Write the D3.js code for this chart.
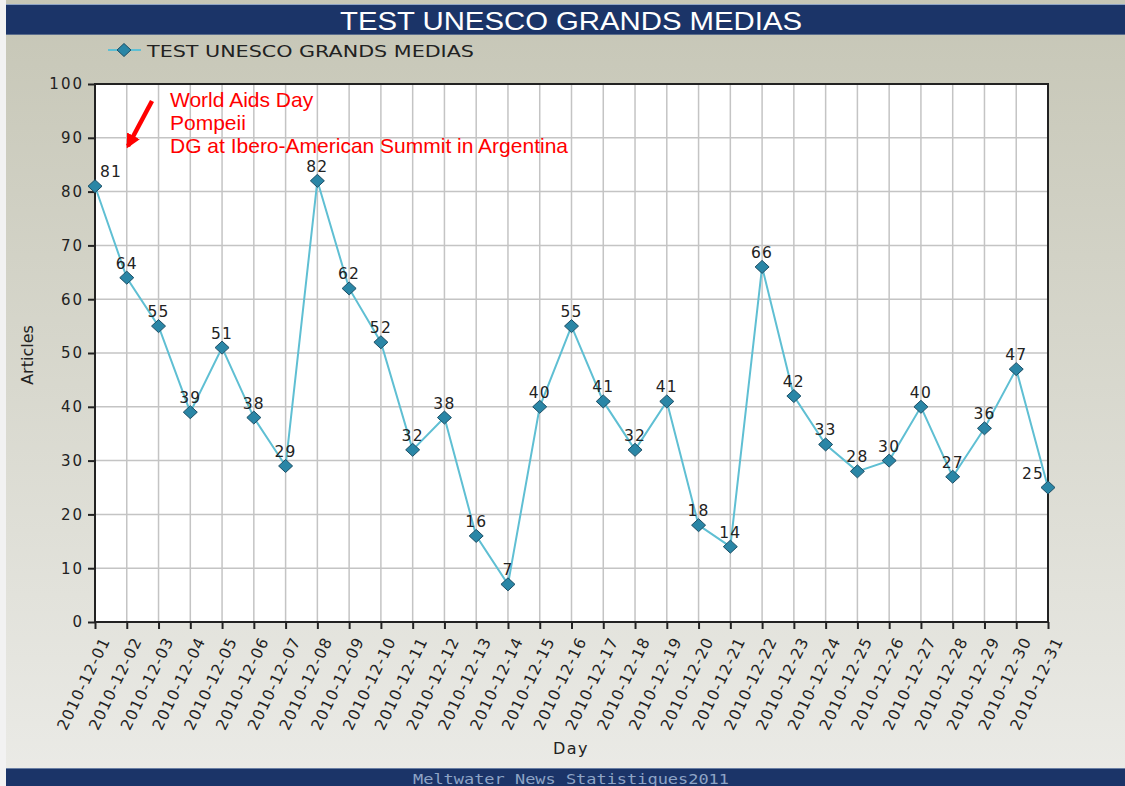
<!DOCTYPE html>
<html>
<head>
<meta charset="utf-8">
<style>
	body { margin: 0; padding: 0; background: #f2f2f2; }
	svg { display: block; }
</style>
</head>
<body>
	<svg id="chart" width="1125" height="786"></svg>

	<script src="https://cdnjs.cloudflare.com/ajax/libs/d3/7.8.5/d3.min.js"></script>
	<script>
		// data
		var days = [];
		for (var d = 1; d <= 31; ++d) days.push("2010-12-" + (d < 10 ? "0" + d : d));
		var articles = [81, 64, 55, 39, 51, 38, 29, 82, 62, 52, 32, 38, 16, 7, 40, 55, 41, 32, 41, 18, 14, 66, 42, 33, 28, 30, 40, 27, 36, 47, 25];
		var yTicks = [0, 10, 20, 30, 40, 50, 60, 70, 80, 90, 100];
		var notes = ["World Aids Day", "Pompeii", "DG at Ibero-American Summit in Argentina"];
		var title = "TEST UNESCO GRANDS MEDIAS";
		var footer = "Meltwater News Statistiques2011";

		var W = 1125, H = 786;
		var pL = 95, pR = 1048, pT = 84, pB = 622;
		var svg = d3.select("#chart");

		var defs = svg.append("defs");
		var grad = defs.append("linearGradient").attr("id", "bg").attr("x1", 0).attr("y1", 0).attr("x2", 0).attr("y2", 1);
		grad.append("stop").attr("offset", "0%").attr("stop-color", "#c6c6b6");
		grad.append("stop").attr("offset", "100%").attr("stop-color", "#ebebe7");
		defs.append("marker").attr("id", "arrow").attr("viewBox", "0 0 10 10").attr("refX", 8).attr("refY", 5)
			.attr("markerWidth", 3.2).attr("markerHeight", 3.2).attr("orient", "auto")
			.append("path").attr("d", "M0,0 L10,5 L0,10 Z").attr("fill", "#ff0000");

		// background + header/footer bars
		svg.append("rect").attr("x", 6).attr("y", 0).attr("width", W - 6).attr("height", H).attr("fill", "url(#bg)");
		svg.append("rect").attr("x", 6).attr("y", 4).attr("width", W - 6).attr("height", 31).attr("fill", "#1b3468");
		svg.append("line").attr("x1", 6).attr("x2", W).attr("y1", 4.5).attr("y2", 4.5).attr("stroke", "#8ea3c4");
		svg.append("line").attr("x1", 6).attr("x2", W).attr("y1", 34.5).attr("y2", 34.5).attr("stroke", "#5a6c8c");
		svg.append("text").attr("x", 571).attr("y", 30).attr("text-anchor", "middle")
			.attr("textLength", 462).attr("lengthAdjust", "spacingAndGlyphs")
			.style("font-family", "'Liberation Sans Narrow', 'Liberation Sans', Arial, sans-serif")
			.style("font-size", "25px").style("fill", "#ffffff").text(title);

		svg.append("rect").attr("x", 6).attr("y", 768).attr("width", W - 6).attr("height", H - 768).attr("fill", "#1b3468");
		svg.append("line").attr("x1", 6).attr("x2", W).attr("y1", 768.5).attr("y2", 768.5).attr("stroke", "#6a7fa4");
		svg.append("text").attr("x", 571).attr("y", 784).attr("text-anchor", "middle")
			.attr("textLength", 316).attr("lengthAdjust", "spacingAndGlyphs")
			.style("font-family", "'DejaVu Sans Mono', monospace").style("font-size", "14px")
			.style("fill", "#8ea4c6").text(footer);

		// scales
		var x = d3.scalePoint().domain(days).range([pL, pR]);
		var y = d3.scaleLinear().domain([0, 100]).range([pB, pT]);

		svg.append("rect").attr("x", pL).attr("y", pT).attr("width", pR - pL).attr("height", pB - pT).attr("fill", "#ffffff");

		// grid
		var grid = svg.append("g").attr("stroke", "#c4c4c4").attr("stroke-width", 1.5);
		grid.selectAll(".gx").data(days).enter().append("line")
			.attr("x1", function(d){ return x(d); }).attr("x2", function(d){ return x(d); })
			.attr("y1", pT).attr("y2", pB);
		grid.selectAll(".gy").data(yTicks).enter().append("line")
			.attr("x1", pL).attr("x2", pR)
			.attr("y1", function(d){ return y(d); }).attr("y2", function(d){ return y(d); });

		// axes
		var yAxis = svg.append("g").attr("transform", "translate(" + pL + ",0)")
			.call(d3.axisLeft(y).tickValues(yTicks).tickSize(7).tickPadding(4));
		var xAxis = svg.append("g").attr("transform", "translate(0," + pB + ")")
			.call(d3.axisBottom(x).tickSize(7).tickPadding(3));
		[yAxis, xAxis].forEach(function(a){
			a.select(".domain").remove();
			a.selectAll(".tick line").attr("stroke", "#222").attr("stroke-width", 2);
			a.selectAll("text").style("font-family", "'DejaVu Sans', Verdana, sans-serif").style("font-size", "15px").style("fill", "#222");
		});
		yAxis.selectAll("text").style("letter-spacing", "2px");
		xAxis.selectAll("text")
			.style("font-size", "15.5px").style("letter-spacing", "1.1px")
			.attr("text-anchor", "end")
			.attr("dx", 0).attr("dy", 0)
			.attr("transform", "translate(6,14) rotate(-64)");

		svg.append("rect").attr("x", pL).attr("y", pT).attr("width", pR - pL).attr("height", pB - pT)
			.attr("fill", "none").attr("stroke", "#222").attr("stroke-width", 2);

		// series
		var line = d3.line().x(function(d, i){ return x(days[i]); }).y(function(d){ return y(d); });
		svg.append("path").datum(articles).attr("d", line).attr("fill", "none")
			.attr("stroke", "#5fbfd3").attr("stroke-width", 2);

		var diamond = "M0,-6.5 L7,0 L0,6.5 L-7,0 Z";
		svg.selectAll(".pt").data(articles).enter().append("path")
			.attr("d", diamond)
			.attr("transform", function(d, i){ return "translate(" + x(days[i]) + "," + y(d) + ")"; })
			.attr("fill", "#2a86a6").attr("stroke", "#1d4f66").attr("stroke-width", 1);

		svg.selectAll(".lbl").data(articles).enter().append("text")
			.attr("x", function(d, i){ return x(days[i]) + (i == 0 ? 5 : i == articles.length - 1 ? -4 : 0); })
			.attr("y", function(d){ return y(d) - 9; })
			.attr("text-anchor", function(d, i){ return i == 0 ? "start" : i == articles.length - 1 ? "end" : "middle"; })
			.style("font-family", "'DejaVu Sans', Verdana, sans-serif").style("font-size", "15.5px")
			.style("letter-spacing", "1.2px").style("fill", "#222")
			.text(function(d){ return d; });

		// legend
		svg.append("line").attr("x1", 108).attr("x2", 141).attr("y1", 50).attr("y2", 50).attr("stroke", "#5fbfd3").attr("stroke-width", 2);
		svg.append("path").attr("d", diamond).attr("transform", "translate(124,50)")
			.attr("fill", "#2a86a6").attr("stroke", "#1d4f66");
		svg.append("text").attr("x", 147).attr("y", 57)
			.attr("textLength", 327).attr("lengthAdjust", "spacingAndGlyphs")
			.style("font-family", "'DejaVu Sans Condensed', 'DejaVu Sans', sans-serif").style("font-size", "16px")
			.style("fill", "#222").text(title);

		// axis titles
		svg.append("text").attr("transform", "translate(33,355) rotate(-90)").attr("text-anchor", "middle")
			.style("font-family", "'DejaVu Sans', Verdana, sans-serif").style("font-size", "16px").style("fill", "#222")
			.text("Articles");
		svg.append("text").attr("x", 571).attr("y", 754).attr("text-anchor", "middle")
			.style("font-family", "'DejaVu Sans', Verdana, sans-serif").style("font-size", "16px")
			.style("letter-spacing", "1.5px").style("fill", "#222").text("Day");

		// annotation
		svg.append("line").attr("x1", 152).attr("y1", 101).attr("x2", 128).attr("y2", 146)
			.attr("stroke", "#ff0000").attr("stroke-width", 4.5).attr("marker-end", "url(#arrow)");
		svg.selectAll(".note").data(notes).enter().append("text")
			.attr("x", 170).attr("y", function(d, i){ return 107 + i * 23; })
			.style("font-family", "'Liberation Sans', Arial, sans-serif").style("font-size", "21px")
			.style("fill", "#ff0000").text(function(d){ return d; });
	</script>
</body>
</html>
